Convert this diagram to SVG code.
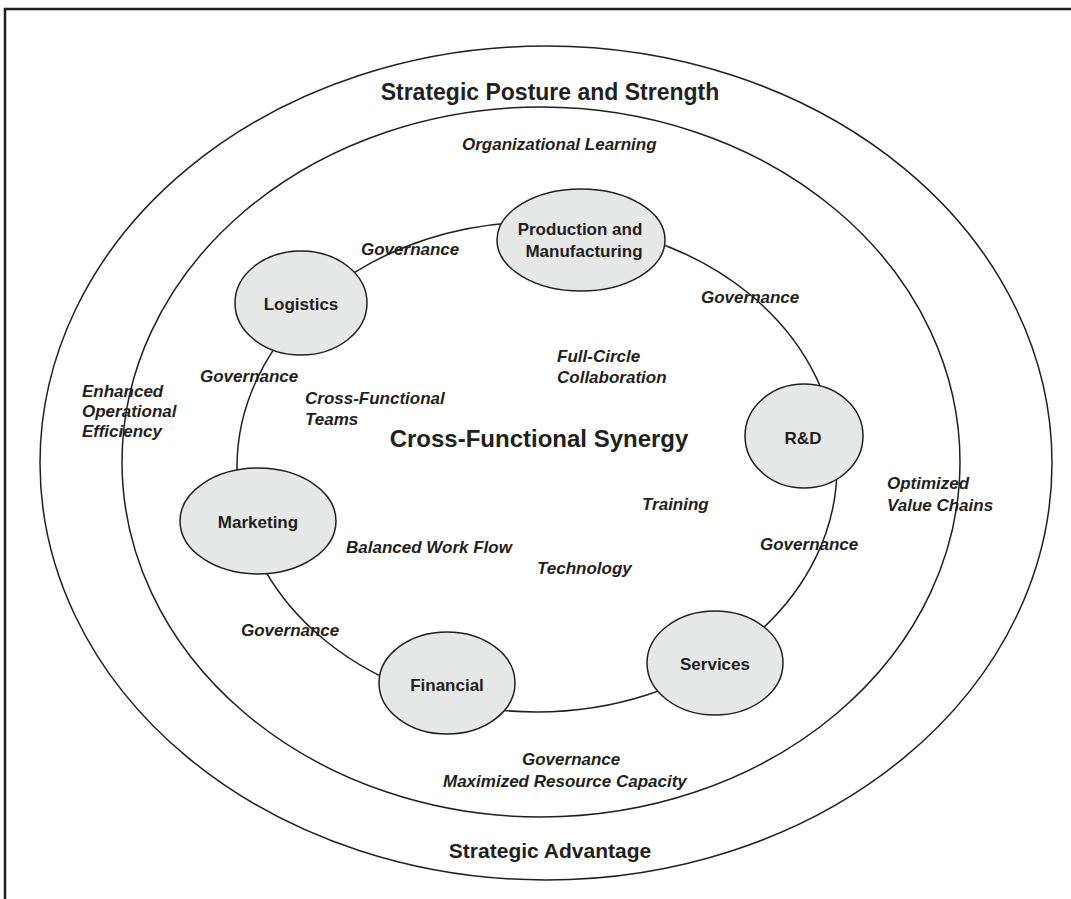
<svg xmlns="http://www.w3.org/2000/svg" width="1071" height="899" viewBox="0 0 1071 899">
<style>
.ring{fill:none;stroke:#231f20;stroke-width:1.5}
.node{fill:#e6e7e7;stroke:#231f20;stroke-width:1.5}
.nt{font-family:"Liberation Sans",Arial,sans-serif;font-weight:bold;font-size:17px;fill:#231f20;text-anchor:middle}
.lb{font-family:"Liberation Sans",Arial,sans-serif;font-weight:bold;font-style:italic;font-size:17px;fill:#231f20}
.tt{font-family:"Liberation Sans",Arial,sans-serif;font-weight:bold;fill:#231f20;text-anchor:middle}
</style>
<rect width="1071" height="899" fill="#ffffff"/>
<path d="M5,899 V9 H1071" fill="none" stroke="#231f20" stroke-width="2.5"/>
<g id="rings">
<ellipse class="ring" cx="546" cy="463" rx="506" ry="417"/>
<ellipse class="ring" cx="541" cy="462" rx="419" ry="355"/>
</g>
<g id="connectors">
<ellipse class="ring" cx="537" cy="467" rx="300" ry="245"/>
</g>
<g id="labels">
<text class="tt" x="550" y="100" font-size="23">Strategic Posture and Strength</text>
<text class="lb" x="462" y="150">Organizational Learning</text>
<text class="lb" x="361" y="255">Governance</text>
<text class="lb" x="701" y="303">Governance</text>
<text class="lb" x="200" y="382">Governance</text>
<text class="lb" x="557" y="362">Full-Circle</text>
<text class="lb" x="557" y="383">Collaboration</text>
<text class="lb" x="305" y="404">Cross-Functional</text>
<text class="lb" x="305" y="425">Teams</text>
<text class="lb" x="82" y="397">Enhanced</text>
<text class="lb" x="82" y="417">Operational</text>
<text class="lb" x="82" y="437">Efficiency</text>
<text class="tt" x="539" y="447" font-size="24">Cross-Functional Synergy</text>
<text class="lb" x="887" y="489">Optimized</text>
<text class="lb" x="887" y="511">Value Chains</text>
<text class="lb" x="642" y="510">Training</text>
<text class="lb" x="760" y="550">Governance</text>
<text class="lb" x="346" y="553">Balanced Work Flow</text>
<text class="lb" x="537" y="574">Technology</text>
<text class="lb" x="241" y="636">Governance</text>
<text class="lb" x="522" y="765">Governance</text>
<text class="lb" x="443" y="787">Maximized Resource Capacity</text>
<text class="tt" x="550" y="858" font-size="21">Strategic Advantage</text>
</g>
<g id="node-production">
<ellipse class="node" cx="581" cy="240" rx="84" ry="51"/>
<text class="nt" x="580" y="235">Production and</text>
<text class="nt" x="584" y="257">Manufacturing</text>
</g>
<g id="node-logistics">
<ellipse class="node" cx="301" cy="303" rx="66" ry="52"/>
<text class="nt" x="301" y="310">Logistics</text>
</g>
<g id="node-rd">
<ellipse class="node" cx="804" cy="436" rx="59" ry="52"/>
<text class="nt" x="803" y="444">R&amp;D</text>
</g>
<g id="node-marketing">
<ellipse class="node" cx="258" cy="521" rx="78" ry="53"/>
<text class="nt" x="258" y="528">Marketing</text>
</g>
<g id="node-financial">
<ellipse class="node" cx="447" cy="683" rx="68" ry="51"/>
<text class="nt" x="447" y="691">Financial</text>
</g>
<g id="node-services">
<ellipse class="node" cx="715" cy="663" rx="68" ry="52"/>
<text class="nt" x="715" y="670">Services</text>
</g>
</svg>
